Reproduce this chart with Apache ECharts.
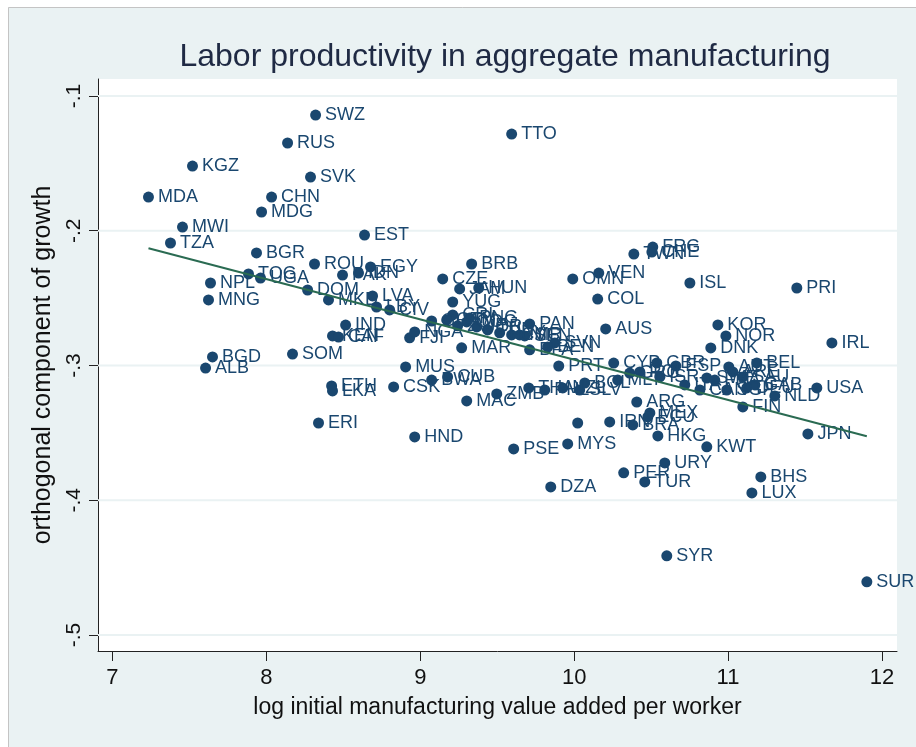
<!DOCTYPE html>
<html>
<head>
<meta charset="utf-8">
<script src="https://cdn.jsdelivr.net/npm/echarts@6/dist/echarts.min.js"></script>
<style>
  html, body { margin: 0; padding: 0; background: #fff; }
  #chart { width: 916px; height: 747px; }
</style>
</head>
<body>
<div id="chart"></div>
<script>
// country codes, log initial value added per worker, orthogonal growth component
const codes = [
  'SWZ','RUS','KGZ','SVK','MDA','CHN','MDG','MWI','TZA','BGR',
  'ROU','EST','TTO','TOG','UGA','NPL','MNG','DOM','MKD','PAK',
  'IDN','EGY','LVA','LBY','CIV','IND','KEN','CAF','SOM','BGD',
  'ALB','ETH','LKA','ERI','CSK','MUS','BWA','CUB','MAC','ZMB',
  'HND','PSE','MYS','DZA','','IRN','THA','PHL','NZL','SLV',
  'BOL','PRT','CYP','BRB','CZE','JAM','HUN','YUG','CRI','GHA',
  'GTM','COG','JOR','TUN','PRY','CMR','NIC','SEN','PAN','SVN',
  'BEN','BFA','MAR','FJI','NGA','ZWE','PNG','MEX','ECU','BRA',
  'HKG','KWT','URY','PER','TUR','BHS','LUX','SYR','SUR','FRG',
  'CHE','TWN','VEN','OMN','ISL','COL','PRI','AUS','KOR','NOR',
  'DNK','IRL','GBR','ESP','AUT','BEL','USA','JPN','MLT','GRC',
  'ISR','ITA','CAN','SWE','FRA','SGP','ARE','SAU','DEU','NLD',
  'FIN','ARG','GAB','POL'
];
const logVa = [
  8.320, 8.138, 7.520, 8.287, 7.234, 8.034, 7.969, 7.455, 7.377, 7.936,
  8.313, 8.638, 9.594, 7.884, 7.962, 7.637, 7.624, 8.268, 8.404, 8.495,
  8.599, 8.677, 8.690, 8.716, 8.801, 8.515, 8.430, 8.469, 8.170, 7.650,
  7.605, 8.424, 8.430, 8.339, 8.827, 8.905, 9.074, 9.178, 9.302, 9.497,
  8.964, 9.607, 9.958, 9.848, 10.023, 10.231, 9.705, 9.809, 9.926, 10.036,
  10.069, 9.900, 10.257, 9.334, 9.146, 9.256, 9.380, 9.211, 9.211, 9.074,
  9.172, 9.302, 9.367, 9.438, 9.516, 9.594, 9.646, 9.679, 9.711, 9.874,
  9.828, 9.711, 9.269, 8.931, 8.964, 9.243, 9.321, 10.492, 10.479, 10.381,
  10.544, 10.862, 10.589, 10.322, 10.459, 11.213, 11.155, 10.602, 11.902, 10.511,
  10.505, 10.388, 10.160, 9.991, 10.752, 10.153, 11.447, 10.205, 10.934, 10.986,
  10.888, 11.675, 10.537, 10.661, 11.005, 11.187, 11.577, 11.519, 10.283, 10.361,
  10.557, 10.719, 10.817, 10.862, 10.914, 10.992, 11.031, 11.096, 11.122, 11.304,
  11.096, 10.407, 11.174, 10.427
];
const growth = [
  -0.1142, -0.1349, -0.1520, -0.1602, -0.1750, -0.1750, -0.1861, -0.1973, -0.2091, -0.2165,
  -0.2247, -0.2032, -0.1283, -0.2321, -0.2351, -0.2388, -0.2514, -0.2440, -0.2514, -0.2329,
  -0.2314, -0.2269, -0.2484, -0.2566, -0.2588, -0.2700, -0.2781, -0.2789, -0.2915, -0.2937,
  -0.3019, -0.3152, -0.3189, -0.3427, -0.3159, -0.3011, -0.3108, -0.3085, -0.3263, -0.3211,
  -0.3530, -0.3619, -0.3582, -0.3901, -0.3427, -0.3419, -0.3167, -0.3182, -0.3167, -0.3182,
  -0.3130, -0.3004, -0.2982, -0.2247, -0.2358, -0.2432, -0.2425, -0.2529, -0.2625, -0.2670,
  -0.2662, -0.2677, -0.2714, -0.2736, -0.2758, -0.2773, -0.2773, -0.2781, -0.2692, -0.2833,
  -0.2863, -0.2884, -0.2869, -0.2795, -0.2751, -0.2706, -0.2648, -0.3352, -0.3382, -0.3441,
  -0.3523, -0.3604, -0.3723, -0.3797, -0.3864, -0.3827, -0.3946, -0.4413, -0.4606, -0.2121,
  -0.2158, -0.2173, -0.2314, -0.2358, -0.2388, -0.2507, -0.2425, -0.2729, -0.2699, -0.2781,
  -0.2870, -0.2833, -0.2981, -0.3004, -0.3011, -0.2981, -0.3167, -0.3508, -0.3108, -0.3056,
  -0.3085, -0.3144, -0.3182, -0.3093, -0.3108, -0.3182, -0.3048, -0.3085, -0.3167, -0.3226,
  -0.3308, -0.3271, -0.3144, -0.3048
];

// fitted line: growth = fitA + fitB * logVa
const fitA = 0.0033;
const fitB = -0.0299;

const xTicks = [7, 8, 9, 10, 11, 12];
const yTicks = [-0.1, -0.2, -0.3, -0.4, -0.5];

const navy = '#1a476f';
const bg = '#eaf2f3';
const font = 'Liberation Sans, Arial, sans-serif';

const points = codes.map((c, i) => ({ name: c, value: [logVa[i], growth[i]] }));
const xLo = Math.min(...logVa), xHi = Math.max(...logVa);
const fitLine = [[xLo, fitA + fitB * xLo], [xHi, fitA + fitB * xHi]];

const chart = echarts.init(document.getElementById('chart'));
chart.setOption({
  backgroundColor: bg,
  animation: false,
  textStyle: { fontFamily: font },
  title: {
    text: 'Labor productivity in aggregate manufacturing',
    left: 500,
    top: 36,
    textAlign: 'center',
    textStyle: { fontSize: 32, fontWeight: 'normal', color: '#1f2a44', fontFamily: font }
  },
  graphic: [
    { type: 'rect', shape: { x: 0, y: 0, width: 916, height: 7 }, style: { fill: '#fff' } },
    { type: 'rect', shape: { x: 0, y: 0, width: 8, height: 747 }, style: { fill: '#fff' } },
    { type: 'polyline', shape: { points: [[8.5, 747], [8.5, 7.5], [916, 7.5]] },
      style: { stroke: '#c4c4c4', lineWidth: 1, fill: null } }
  ],
  grid: {
    left: 98, right: 19, top: 79, bottom: 96,
    show: true, backgroundColor: '#fff', borderWidth: 0
  },
  xAxis: {
    type: 'value',
    min: 6.906, max: 12.098,
    name: 'log initial manufacturing value added per worker',
    nameLocation: 'middle',
    nameGap: 45,
    nameTextStyle: { fontSize: 23, color: '#111', fontFamily: font },
    axisLine: { show: true, onZero: false, lineStyle: { color: '#222', width: 1 } },
    axisTick: { show: true, length: 10, customValues: xTicks, lineStyle: { color: '#222' } },
    axisLabel: { customValues: xTicks, fontSize: 22, color: '#111', margin: 16 },
    splitLine: { show: false }
  },
  yAxis: {
    type: 'value',
    min: -0.5119, max: -0.0874,
    name: 'orthogonal component of growth',
    nameLocation: 'middle',
    nameRotate: 90,
    nameGap: 34,
    nameTextStyle: { fontSize: 25, color: '#111', fontFamily: font },
    axisLine: { show: true, onZero: false, lineStyle: { color: '#222', width: 1 } },
    axisTick: { show: true, length: 9, customValues: yTicks, lineStyle: { color: '#222' } },
    axisLabel: {
      customValues: yTicks, rotate: 90, fontSize: 21, color: '#111', margin: 13,
      formatter: v => v.toFixed(1).replace('0.', '.')
    },
    splitLine: { show: false }
  },
  series: [
    {
      // horizontal grid lines at the y ticks
      type: 'custom',
      z: 1,
      silent: true,
      data: yTicks.map(v => [v]),
      renderItem: (params, api) => {
        const v = api.value(0);
        const p1 = api.coord([6.906, v]);
        const p2 = api.coord([12.098, v]);
        return {
          type: 'line',
          shape: { x1: p1[0], y1: p1[1], x2: p2[0], y2: p2[1] },
          style: { stroke: bg, lineWidth: 2 }
        };
      }
    },
    {
      type: 'scatter',
      z: 3,
      symbol: 'circle',
      symbolSize: 11,
      itemStyle: { color: navy, opacity: 1 },
      label: {
        show: true, position: 'right', distance: 4,
        formatter: p => p.name,
        fontSize: 18, color: navy, fontFamily: font
      },
      data: points
    },
    {
      type: 'line',
      z: 4,
      symbol: 'none',
      lineStyle: { color: '#2a6b52', width: 2 },
      data: fitLine
    }
  ]
});
</script>
</body>
</html>
